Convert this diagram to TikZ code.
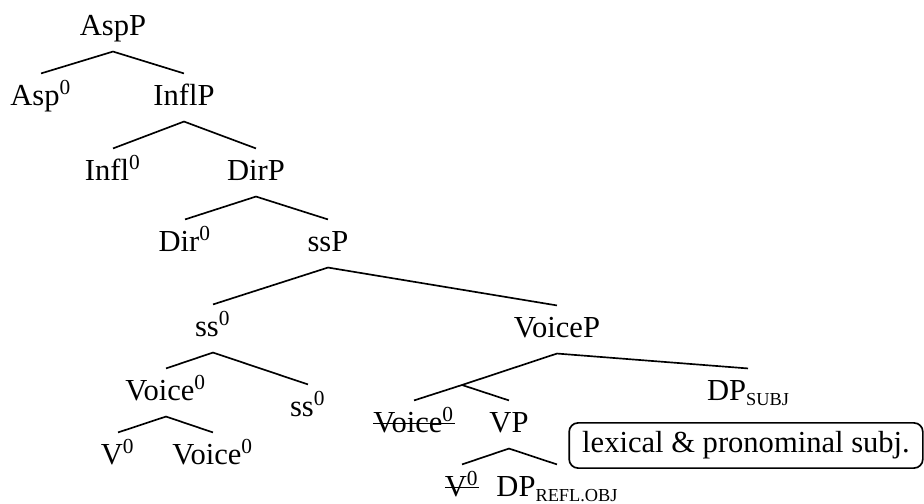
\documentclass[tikz,border=0pt]{standalone}
\usepackage{fontspec}
\setmainfont{Liberation Serif}
% small raised/lowered labels used inside the tree nodes
\newcommand\hd{\textsuperscript{0}}
\newcommand\lsub[1]{\raisebox{-1.7pt}{\fontsize{6.6}{7}\selectfont #1}}
% struck-through (deleted) copy of a head
\newcommand\strikeout[1]{\setbox0=\hbox{#1}\rlap{\copy0}\rule[0.28em]{\wd0}{0.5pt}}
\begin{document}
\begin{tikzpicture}[x=0.36pt,y=-0.36pt,
  font=\fontsize{11}{13}\selectfont,
  tn/.style={anchor=base, inner xsep=0pt, inner ysep=0pt,
             text height=11.52pt, text depth=5.4pt},
  branch/.style={line width=0.6pt},
  note/.style={draw, line width=0.6pt, rounded corners=3.2pt,
               inner xsep=4.7pt, inner ysep=3.15pt}]
\useasboundingbox (0,0) rectangle (924,504);

% nodes, placed on their baselines
\node[tn] (AspP)   at (113,36)  {AspP};
\node[tn] (Asp)    at (41,106)  {Asp\hd};
\node[tn] (InflP)  at (184,106) {InflP};
\node[tn] (Infl)   at (113,181) {Infl\hd};
\node[tn] (DirP)   at (256,181) {DirP};
\node[tn] (Dir)    at (185,252) {Dir\hd};
\node[tn] (ssP)    at (328,252) {ssP};
\node[tn] (ssA)    at (213,337) {ss\hd};
\node[tn] (VoiceP) at (557,338) {VoiceP};
\node[tn] (VoiceA) at (166,401) {Voice\hd};
\node[tn] (ssB)    at (308,417) {ss\hd};
\node[tn] (V)      at (118,465) {V\hd};
\node[tn] (VoiceB) at (213,465) {Voice\hd};
\coordinate (Vbar) at (462,385);
\node[tn] (DPsubj) at (748,401) {DP\lsub{SUBJ}};
\node[tn] (VoiceC) at (414,433) {\strikeout{Voice\hd}};
\node[tn] (VP)     at (509,433) {VP};
\node[tn] (Vdel)   at (462,497) {\strikeout{V\hd}};
\node[tn] (DPrefl) at (557,497) {DP\lsub{REFL.OBJ}};
\node[note] (subj) at (746,445.5) {lexical \& pronominal subj.};

% branches
\draw[branch] (Asp.north) -- (AspP.south) -- (InflP.north);
\draw[branch] (Infl.north) -- (InflP.south) -- (DirP.north);
\draw[branch] (Dir.north) -- (DirP.south) -- (ssP.north);
\draw[branch] (ssA.north) -- (ssP.south) -- (VoiceP.north);
\draw[branch] (VoiceA.north) -- (ssA.south) -- (ssB.north);
\draw[branch] (V.north) -- (VoiceA.south) -- (VoiceB.north);
\draw[branch] (Vbar) -- (VoiceP.south) -- (DPsubj.north);
\draw[branch] (VoiceC.north) -- (Vbar) -- (VP.north);
\draw[branch] (Vdel.north) -- (VP.south) -- (DPrefl.north);
\end{tikzpicture}
\end{document}
